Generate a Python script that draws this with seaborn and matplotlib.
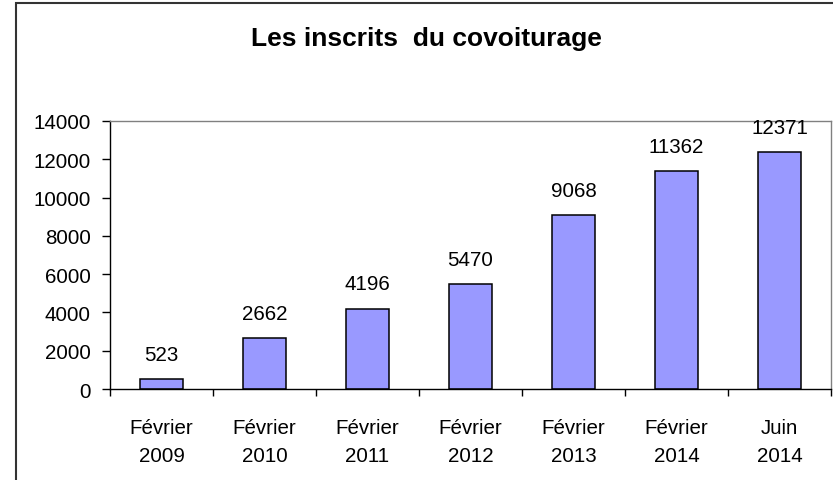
import matplotlib
matplotlib.use("Agg")
import matplotlib.pyplot as plt
import seaborn as sns
import pandas as pd
from matplotlib.patches import Rectangle

categories = ["Février\n2009", "Février\n2010", "Février\n2011", "Février\n2012",
              "Février\n2013", "Février\n2014", "Juin\n2014"]
values = [523, 2662, 4196, 5470, 9068, 11362, 12371]
yticks = [0, 2000, 4000, 6000, 8000, 10000, 12000, 14000]
title = "Les inscrits  du covoiturage"

sns.set_theme(style="white")
plt.rcParams['font.family'] = ['Liberation Sans', 'DejaVu Sans']
plt.rcParams['text.color'] = 'black'
plt.rcParams['xtick.color'] = 'black'
plt.rcParams['ytick.color'] = 'black'
plt.rcParams['xtick.labelcolor'] = 'black'
plt.rcParams['ytick.labelcolor'] = 'black'

df = pd.DataFrame({"periode": categories, "inscrits": values})

fig = plt.figure(figsize=(8.33, 4.81), dpi=100)
ax = fig.add_axes([110/833, 1-390/481, (831-110)/833, (390-122)/481])

sns.barplot(data=df, x="periode", y="inscrits", color="#9999FF", saturation=1,
            edgecolor="black", linewidth=1.1, width=0.42, ax=ax)

ax.set_xlim(-0.5, len(categories) - 0.5)
ax.set_ylim(0, 14000)
ax.set_yticks(yticks)
ax.set_yticklabels([str(t) for t in yticks], fontsize=14.8, color='black')
ax.set_xlabel("")
ax.set_ylabel("")

ax.set_xticks(range(len(categories)))
ax.set_xticklabels(categories, fontsize=14.8, linespacing=1.62, color='black')
ax.tick_params(axis='x', which='major', length=0, pad=21)
ax.set_xticks([i - 0.5 for i in range(len(categories) + 1)], minor=True)
ax.tick_params(axis='x', which='minor', length=5, width=1, color='black', direction='out', bottom=True)
ax.tick_params(axis='y', which='major', length=6, width=1, color='black', direction='out', left=True, pad=8)

for side in ['left', 'bottom']:
    ax.spines[side].set_color('black')
    ax.spines[side].set_linewidth(1.0)
for side in ['top', 'right']:
    ax.spines[side].set_color('#808080')
    ax.spines[side].set_linewidth(1.0)
    ax.spines[side].set_visible(True)

for cont in ax.containers:
    ax.bar_label(cont, labels=[str(v) for v in values], padding=11, fontsize=14.8, color='black')

fig.text(426/833, 1-39/481, title, ha='center', va='center', fontsize=19,
         fontweight='bold', color='black')

frame = Rectangle((16/833, -0.2), 2, 1 - 4/481 + 0.2, transform=fig.transFigure,
                  fill=False, edgecolor='#333333', linewidth=1.5, clip_on=False)
fig.patches.append(frame)

fig.savefig("out.png", dpi=100, facecolor='white')
